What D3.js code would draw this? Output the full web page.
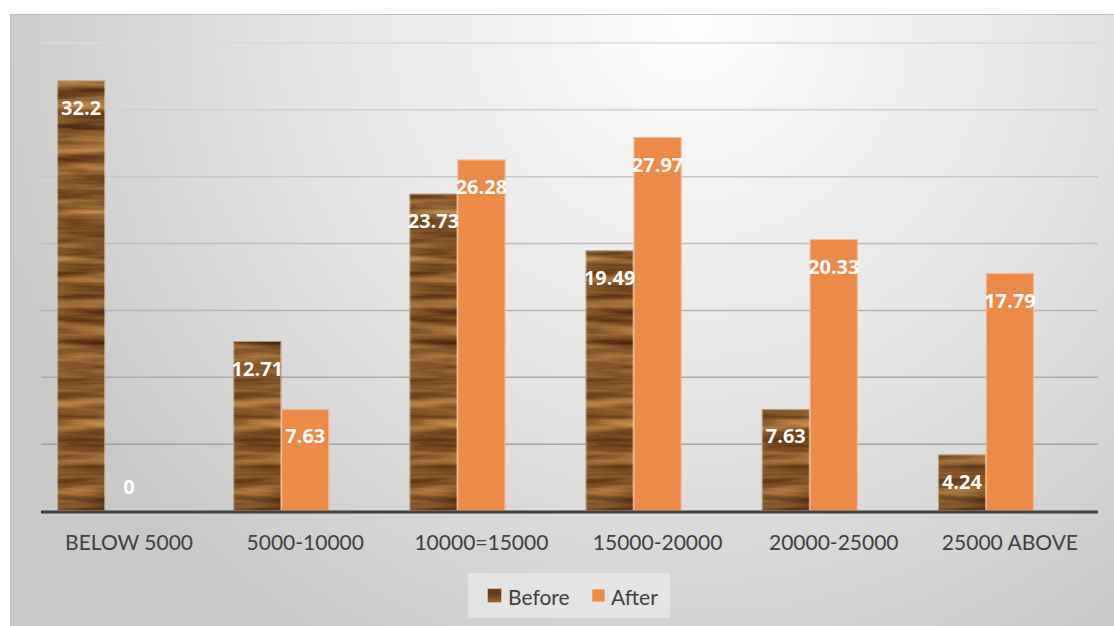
<!DOCTYPE html>
<html>
<head>
<meta charset="utf-8">
<script src="https://cdn.jsdelivr.net/npm/d3@7/dist/d3.min.js"></script>
<style>
  html, body { margin: 0; padding: 0; background: #ffffff; }
  svg { display: block; }
</style>
</head>
<body>
<svg id="chart" width="1114" height="626"></svg>
<script>
// Income bands and share of respondents before/after
const categories = ["BELOW 5000", "5000-10000", "10000=15000", "15000-20000", "20000-25000", "25000 ABOVE"];
const seriesNames = ["Before", "After"];
const beforeValues = [32.2, 12.71, 23.73, 19.49, 7.63, 4.24];
const afterValues = [0, 7.63, 26.28, 27.97, 20.33, 17.79];
const yTicks = [5, 10, 15, 20, 25, 30, 35];

const svg = d3.select("#chart");
const W = 1114, H = 626;
const plot = { left: 41, right: 1098, top: 43, bottom: 511 };

const defs = svg.append("defs");

// soft radial background shading
const bg = defs.append("radialGradient")
  .attr("id", "bgGrad")
  .attr("gradientUnits", "userSpaceOnUse")
  .attr("cx", 690).attr("cy", 20).attr("r", 720);
bg.append("stop").attr("offset", "0").attr("stop-color", "#fdfdfd");
bg.append("stop").attr("offset", "0.55").attr("stop-color", "#e4e4e4");
bg.append("stop").attr("offset", "1").attr("stop-color", "#c9c9c9");

// wood grain texture for the "Before" series
const wood = defs.append("filter")
  .attr("id", "wood")
  .attr("filterUnits", "userSpaceOnUse")
  .attr("color-interpolation-filters", "sRGB")
  .attr("x", 0).attr("y", 0).attr("width", W).attr("height", H);
wood.append("feTurbulence")
  .attr("type", "fractalNoise")
  .attr("baseFrequency", "0.008 0.09")
  .attr("numOctaves", 4)
  .attr("seed", 11)
  .attr("result", "noise");
wood.append("feColorMatrix")
  .attr("in", "noise")
  .attr("type", "matrix")
  .attr("values", [
    "0.75 0 0 0 0.16",
    "0.62 0 0 0 0.04",
    "0.40 0 0 0 -0.03",
    "0 0 0 0 1"
  ].join(" "))
  .attr("result", "grain");
wood.append("feComposite")
  .attr("in", "grain")
  .attr("in2", "SourceGraphic")
  .attr("operator", "in");

// chart area background with a thin frame on the top and left
svg.append("rect")
  .attr("x", 10).attr("y", 14)
  .attr("width", W - 10).attr("height", H - 14)
  .attr("fill", "url(#bgGrad)");
svg.append("path")
  .attr("d", `M10.5,${H} V14.5 H${W}`)
  .attr("fill", "none")
  .attr("stroke", "#bdbdbd")
  .attr("stroke-width", 1.2);

// scales
const y = d3.scaleLinear().domain([0, 35]).range([plot.bottom, plot.top]);
const x0 = d3.scaleBand()
  .domain(categories)
  .range([plot.left, plot.right])
  .paddingInner(0.183)
  .paddingOuter(0.0915);
// each cluster reserves three slots; the two series fill the first two
const x1 = d3.scaleBand()
  .domain(seriesNames)
  .range([0, x0.bandwidth() * 2 / 3]);

// gridlines, a little darker toward the baseline
const gridColor = d3.scaleLinear().domain([5, 35]).range(["#a0a0a0", "#dadada"]);
svg.append("g")
  .selectAll("line")
  .data(yTicks)
  .join("line")
  .attr("x1", plot.left).attr("x2", plot.right)
  .attr("y1", d => y(d)).attr("y2", d => y(d))
  .attr("stroke", d => gridColor(d))
  .attr("stroke-width", 1.5);

const rows = categories.map((c, i) => ({
  category: c,
  values: [
    { series: "Before", value: beforeValues[i] },
    { series: "After", value: afterValues[i] }
  ]
}));

const fills = { Before: "#8a5a2e", After: "#ec8a48" };

const groups = svg.append("g")
  .selectAll("g")
  .data(rows)
  .join("g")
  .attr("transform", d => `translate(${x0(d.category)},0)`);

groups.selectAll("rect")
  .data(d => d.values.filter(v => v.value > 0))
  .join("rect")
  .attr("x", d => x1(d.series))
  .attr("y", d => y(d.value))
  .attr("width", x1.bandwidth())
  .attr("height", d => y(0) - y(d.value))
  .attr("fill", d => fills[d.series])
  .attr("filter", d => d.series === "Before" ? "url(#wood)" : null);

groups.selectAll("rect.edge")
  .data(d => d.values.filter(v => v.value > 0))
  .join("rect")
  .attr("class", "edge")
  .attr("x", d => x1(d.series) + 0.5)
  .attr("y", d => y(d.value) + 0.5)
  .attr("width", x1.bandwidth() - 1)
  .attr("height", d => y(0) - y(d.value) - 1)
  .attr("fill", "none")
  .attr("stroke", "rgba(255,235,215,0.5)")
  .attr("stroke-width", 1);

// value labels near the top of each bar
groups.selectAll("text")
  .data(d => d.values)
  .join("text")
  .attr("x", d => x1(d.series) + x1.bandwidth() / 2)
  .attr("y", d => Math.min(y(d.value) + 27, y(0) - 25))
  .attr("text-anchor", "middle")
  .attr("dominant-baseline", "central")
  .attr("font-family", "'Open Sans', Lato, sans-serif")
  .attr("font-weight", "bold")
  .attr("font-size", 20)
  .attr("fill", "#ffffff")
  .text(d => d.value);

// baseline
svg.append("line")
  .attr("x1", plot.left).attr("x2", plot.right)
  .attr("y1", y(0) + 1).attr("y2", y(0) + 1)
  .attr("stroke", "#404040")
  .attr("stroke-width", 3);

// category axis labels
const xAxis = d3.axisBottom(x0).tickSize(0).tickPadding(0);
const gx = svg.append("g")
  .attr("transform", `translate(0,${y(0)})`)
  .call(xAxis);
gx.select(".domain").remove();
gx.selectAll("text")
  .attr("y", 32)
  .attr("dy", "0.35em")
  .attr("font-family", "Lato, 'Open Sans', sans-serif")
  .attr("font-size", 21)
  .attr("fill", "#404040");

// legend
const legend = svg.append("g");
legend.append("rect")
  .attr("x", 468).attr("y", 573)
  .attr("width", 202).attr("height", 45)
  .attr("fill", "#eaeaea")
  .attr("opacity", 0.75);
const legendItems = [
  { name: seriesNames[0], sx: 488, tx: 508 },
  { name: seriesNames[1], sx: 592, tx: 611 }
];
legendItems.forEach(it => {
  legend.append("rect")
    .attr("x", it.sx).attr("y", 589)
    .attr("width", 13).attr("height", 13)
    .attr("fill", fills[it.name])
    .attr("stroke", "rgba(255,235,215,0.6)")
    .attr("filter", it.name === "Before" ? "url(#wood)" : null);
  legend.append("text")
    .attr("x", it.tx).attr("y", 596)
    .attr("dominant-baseline", "central")
    .attr("font-family", "Lato, 'Open Sans', sans-serif")
    .attr("font-size", 21)
    .attr("fill", "#404040")
    .text(it.name);
});
</script>
</body>
</html>
